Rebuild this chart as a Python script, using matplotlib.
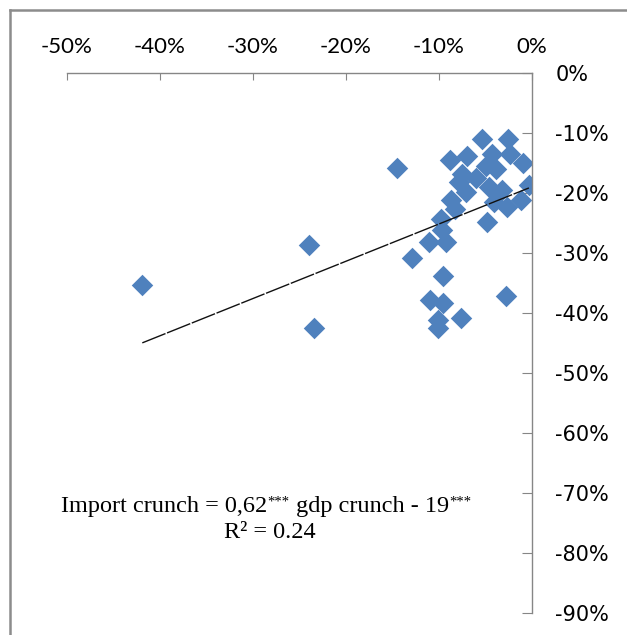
import matplotlib
matplotlib.use("Agg")
import matplotlib.pyplot as plt
from matplotlib.lines import Line2D
from matplotlib.ticker import FuncFormatter

# GDP crunch (x, %) and import crunch (y, %) per country
gdp_crunch = [-14.5, -5.3, -2.6, -8.8, -7.0, -4.3, -0.9, -4.9, -3.8, -7.5,
              -7.8, -6.0, -2.3, -0.3, -7.1, -4.6, -3.2, -8.7, -8.2, -4.1,
              -2.7, -1.2, -9.8, -4.8, -9.7, -11.1, -9.2, -12.9, -9.5, -10.9,
              -9.5, -2.8, -7.6, -10.1, -10.1, -41.9, -24.0, -23.4]
import_crunch = [-15.8, -11.1, -11.1, -14.6, -13.9, -13.6, -15.1, -15.6, -16.1, -16.8,
                 -18.2, -17.6, -13.6, -18.7, -19.8, -19.0, -19.5, -21.2, -22.7, -21.5,
                 -22.4, -21.2, -24.4, -24.9, -26.2, -28.2, -28.2, -30.8, -33.8, -37.8,
                 -38.3, -37.1, -40.8, -41.2, -42.5, -35.3, -28.7, -42.5]

trend_slope = 0.62
trend_intercept = -19.0
r_squared = 0.24

x_ticks = [-50, -40, -30, -20, -10, 0]
y_ticks = [0, -10, -20, -30, -40, -50, -60, -70, -80, -90]

W, H = 627, 635
fig = plt.figure(figsize=(W / 100, H / 100), dpi=100)
ax = fig.add_axes([67 / W, 1 - 613.3 / H, (531.7 - 67) / W, (613.3 - 72.7) / H])

ax.scatter(gdp_crunch, import_crunch, marker="D", s=120, color="#4F81BD",
           linewidths=0, zorder=2)

xs = [min(gdp_crunch), max(gdp_crunch)]
ax.plot(xs, [trend_slope * v + trend_intercept for v in xs], color="#111111",
        lw=1.0, ls=(0, (18, 1.2)), zorder=3)

ax.set_xlim(-50, 0)
ax.set_ylim(-90, 0)
ax.set_xticks(x_ticks)
ax.set_yticks(y_ticks)
pct = FuncFormatter(lambda v, _: f"{v:.0f}%")
ax.xaxis.set_major_formatter(pct)
ax.yaxis.set_major_formatter(pct)
ax.xaxis.tick_top()
ax.yaxis.tick_right()

for s in ("left", "bottom"):
    ax.spines[s].set_visible(False)
for s in ("top", "right"):
    ax.spines[s].set_color("#868686")
    ax.spines[s].set_linewidth(1.0)

ax.tick_params(axis="x", direction="in", length=5, color="#868686", pad=11,
               labelsize=16, labelcolor="black")
ax.tick_params(axis="y", direction="in", length=7, color="#868686", pad=17,
               labelsize=15, labelcolor="black")
for lab in ax.get_xticklabels():
    lab.set_family("Lato")
for lab in ax.get_yticklabels():
    lab.set_family("DejaVu Sans")

# regression equation, pieces chained so the *** sit as superscripts
serif = dict(family="Liberation Serif", fontsize=17.5)
sup = dict(family="Liberation Serif", fontsize=10.5)
t1 = fig.text(60.7 / W, 1 - 511.7 / H, "Import crunch = 0,62",
              ha="left", va="baseline", **serif)
t2 = fig.add_artist(matplotlib.text.Annotation(
    "***", xy=(1, 1), xycoords=t1, xytext=(0.5, 0), textcoords="offset points",
    ha="left", va="top", **sup))
t3 = fig.add_artist(matplotlib.text.Annotation(
    " gdp crunch - 19", xy=(1, 0), xycoords=(t2, t1), ha="left", va="bottom",
    **serif))
fig.add_artist(matplotlib.text.Annotation(
    "***", xy=(1, 1), xycoords=t3, xytext=(0.5, 0), textcoords="offset points",
    ha="left", va="top", **sup))
fig.text(269.5 / W, 1 - 538 / H, f"R\u00b2 = {r_squared:.2f}",
         ha="center", va="baseline", **serif)

# chart-area frame (only top and left edges are visible in the crop)
fig.add_artist(Line2D([10 / W, 1], [1 - 10 / H, 1 - 10 / H], color="#8c8c8c",
                      lw=1.8, transform=fig.transFigure))
fig.add_artist(Line2D([10 / W, 10 / W], [0, 1 - 10 / H], color="#8c8c8c",
                      lw=1.8, transform=fig.transFigure))

fig.savefig("out.png", dpi=100)
